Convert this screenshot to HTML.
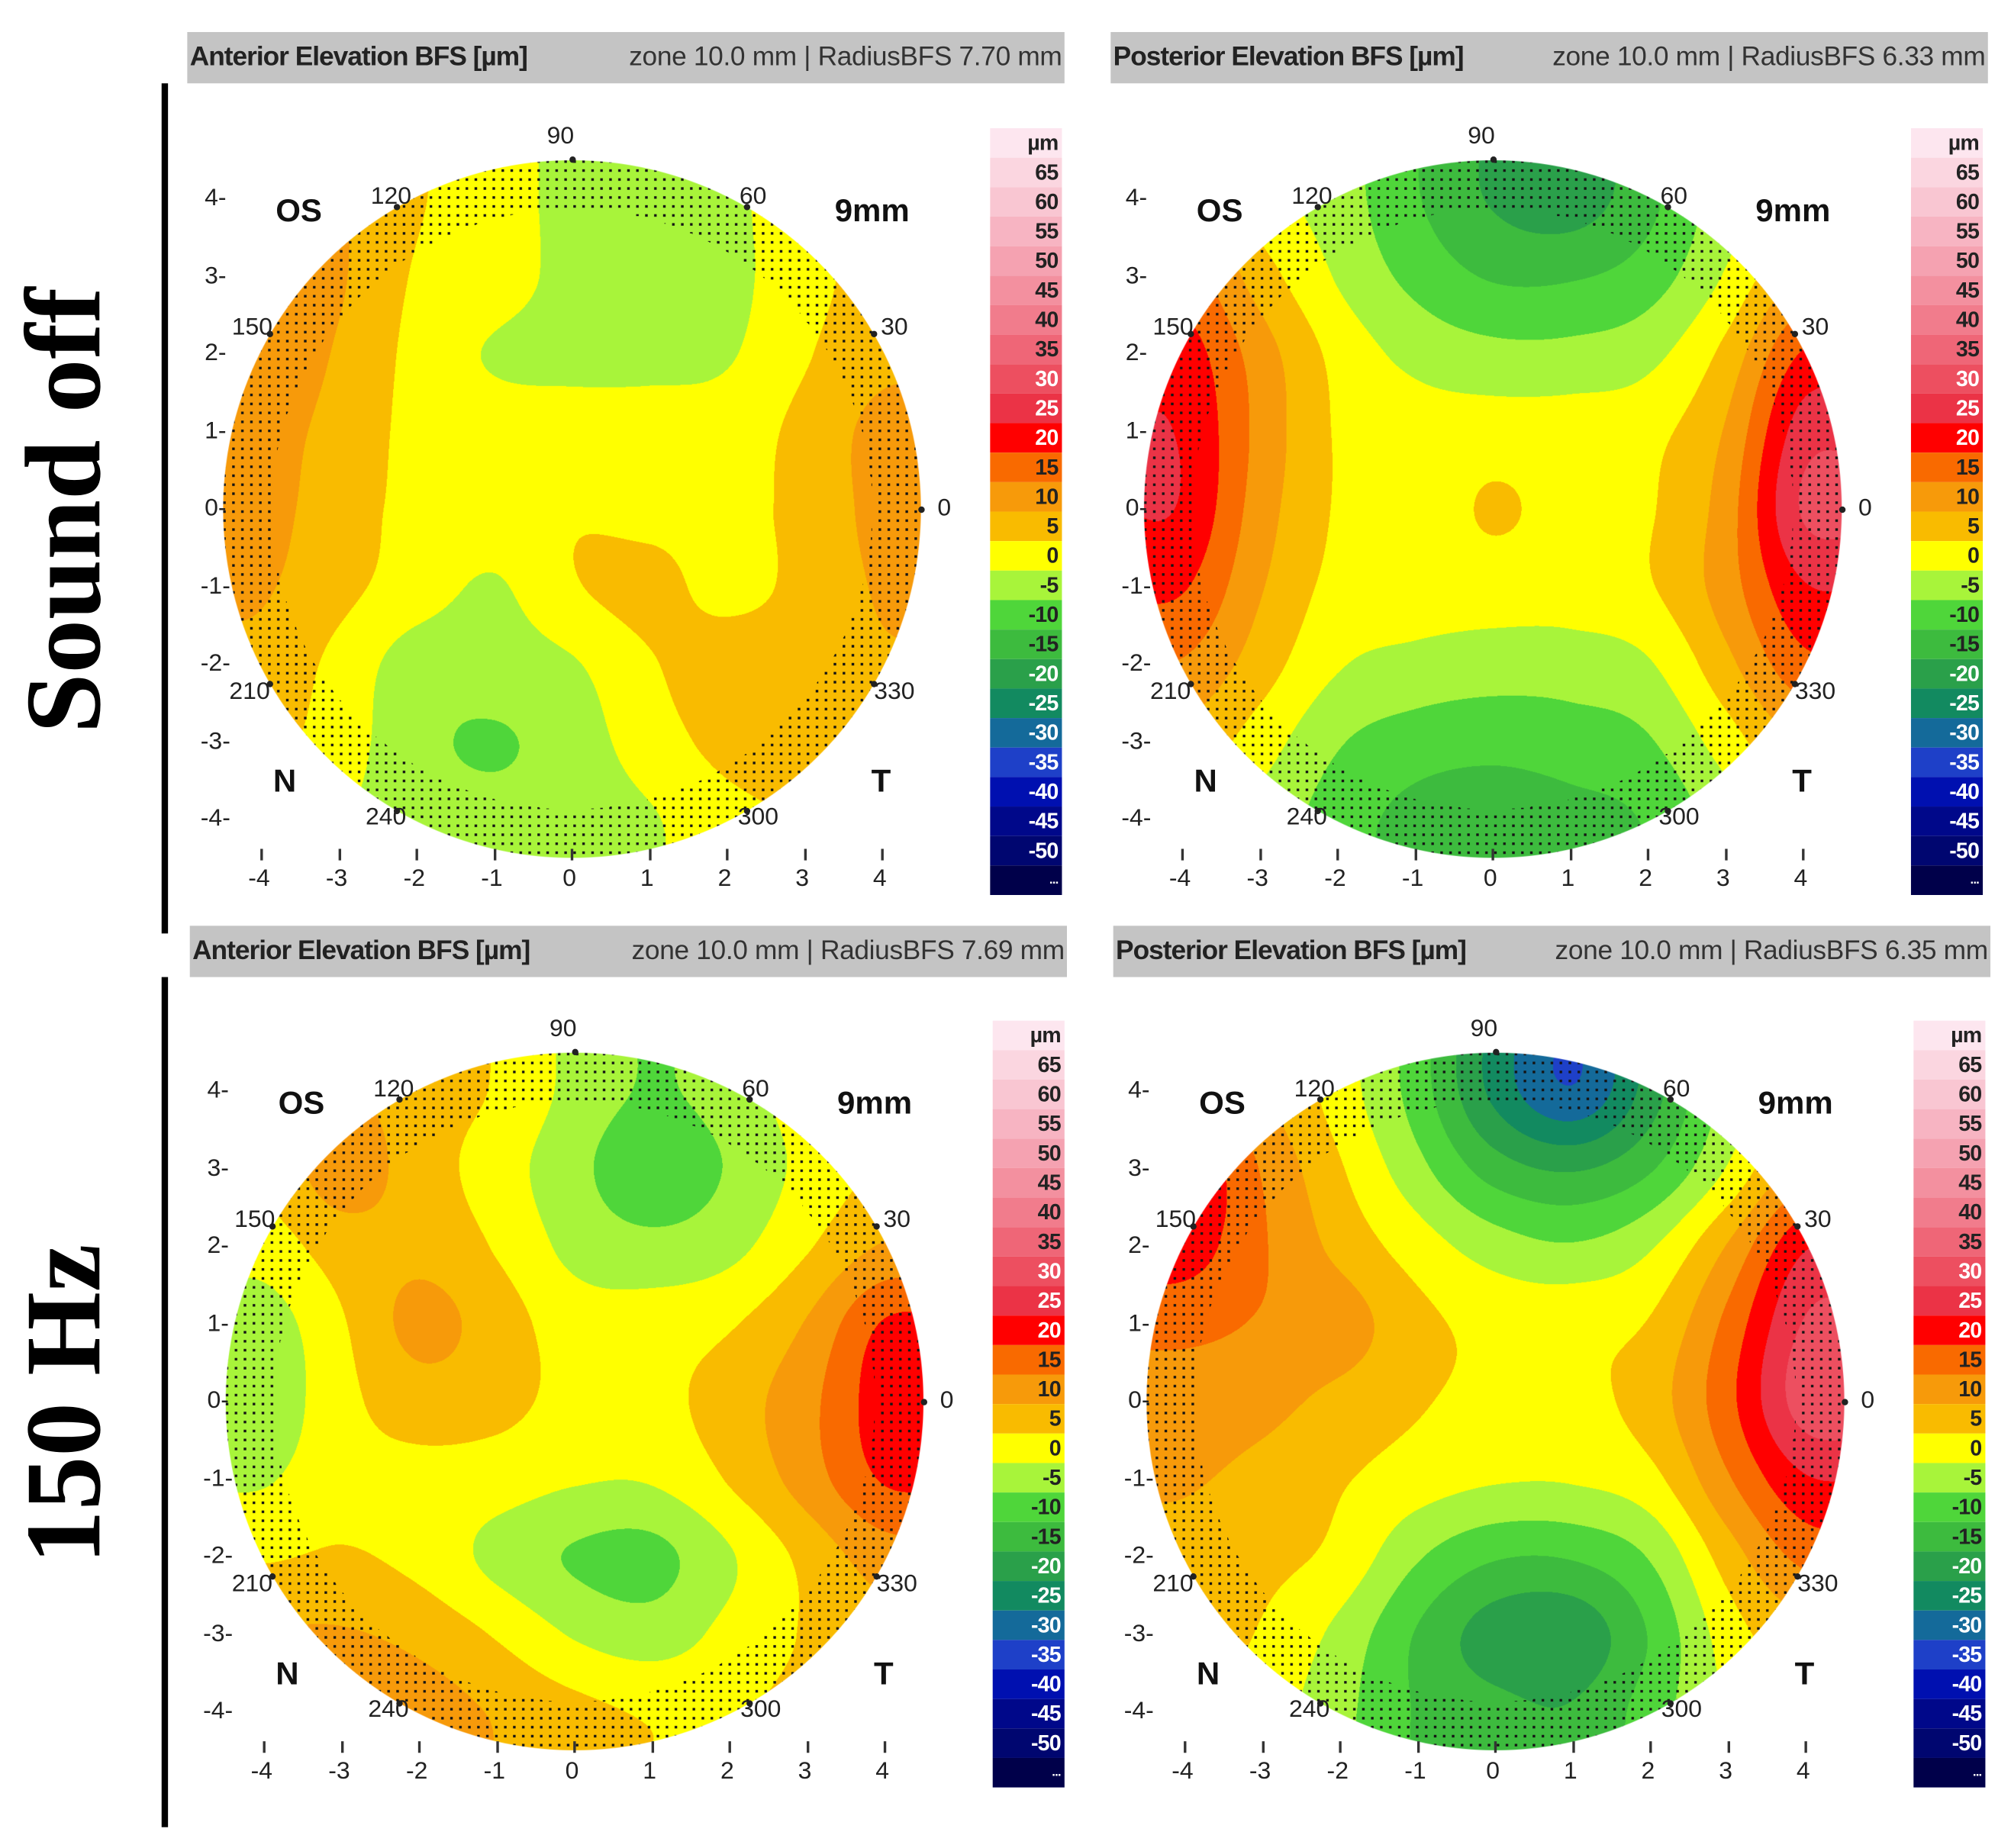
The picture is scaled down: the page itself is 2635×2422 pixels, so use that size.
<!DOCTYPE html>
<html><head><meta charset="utf-8">
<style>
html,body{margin:0;padding:0;background:#fff;}
body{width:2635px;height:2422px;overflow:hidden;position:relative;}
#wrap{position:absolute;left:0;top:0;width:1568px;height:1441px;transform:scale(1.6805);transform-origin:0 0;font-family:"Liberation Sans",sans-serif;}
.abs{position:absolute;}
.hdr{position:absolute;height:40px;background:#c4c4c4;font-family:"Liberation Sans Narrow","Liberation Sans",sans-serif;font-size:21px;color:#222;}
.hdr .l{position:absolute;left:2px;top:8px;font-weight:bold;letter-spacing:-0.6px;}
.hdr .r{position:absolute;right:2px;top:8px;color:#333;letter-spacing:-0.2px;}
.side{position:absolute;font-family:"Liberation Serif",serif;font-weight:bold;font-size:84px;white-space:nowrap;transform:translate(-50%,-50%) rotate(-90deg);}
.vbar{position:absolute;width:5px;background:#000;}
.lbl{position:absolute;font-size:19px;color:#222;white-space:nowrap;transform:translate(-50%,-50%);}
.big{position:absolute;font-size:25px;font-weight:bold;color:#111;transform:translate(-50%,-50%);}
.cb{position:absolute;width:56px;}
.cb div{height:23px;text-align:right;font-size:17px;font-weight:bold;line-height:23px;padding-right:3px;box-sizing:border-box;letter-spacing:-0.5px;}
</style></head>
<body>
<div id="wrap">
  <div class="side" style="left:50px;top:398px;">Sound off</div>
  <div class="vbar" style="left:126px;top:65px;height:663px;"></div>
  <div class="side" style="left:50px;top:1095px;">150 Hz</div>
  <div class="vbar" style="left:126px;top:762px;height:663px;"></div>
</div>
<script>
// elevation grids (µm), rows y = 4..-4 mm, cols x = -4..4 mm
const gridAntOff = [
 [10,8,3,0,-4,-4,-4,2,5],
 [10,8,2,0,-4,-4,-4,1,4],
 [10,7,1,-3,-4,-4,-3,2,6],
 [9,6,1,0,0,0,0,4,9],
 [9,5,1,0,2,1,1,4,9],
 [8,4,0,-3,2,4,1,4,8],
 [6,1,-5,-5,-3,2,5,5,7],
 [4,0,-6,-8,-5,0,4,5,6],
 [2,-2,-5,-6,-5,-3,1,3,5]
];
const gridPostOff = [
 [10,0,-5,-12,-18,-20,-14,-5,0],
 [15,5,-3,-9,-13,-13,-10,-2,8],
 [20,10,1,-4,-6,-6,-4,4,18],
 [22,11,2,0,0,0,1,8,25],
 [22,10,2,0,3,1,2,10,28],
 [18,8,1,0,0,0,2,10,22],
 [12,5,-2,-4,-5,-5,-3,6,16],
 [6,0,-7,-10,-11,-10,-8,0,8],
 [2,-4,-10,-14,-15,-14,-12,-5,2]
];
const gridAnt150 = [
 [5,8,5,2,-4,-8,-5,0,2],
 [4,10,5,0,-6,-11,-7,-1,3],
 [0,5,6,2,-4,-6,-4,2,8],
 [-5,2,9,5,0,0,2,8,18],
 [-6,1,5,4,1,1,5,11,20],
 [-3,1,1,0,-2,-2,3,10,18],
 [2,3,1,-4,-8,-9,-3,4,10],
 [8,8,6,2,-3,-5,-1,3,6],
 [12,12,10,7,4,2,2,4,6]
];
const gridPost150 = [
 [15,8,0,-10,-24,-32,-20,-6,2],
 [22,12,3,-6,-15,-18,-13,-2,10],
 [20,13,6,0,-5,-7,-3,8,22],
 [14,12,10,4,1,1,3,14,28],
 [10,9,6,3,1,1,5,16,30],
 [8,6,3,0,-2,-2,1,12,22],
 [6,4,1,-7,-12,-12,-7,5,14],
 [5,2,-4,-13,-20,-21,-12,0,6],
 [4,0,-6,-13,-16,-17,-10,-2,3]
];
const scaleLabels = ["µm","65","60","55","50","45","40","35","30","25","20","15","10","5","0","-5","-10","-15","-20","-25","-30","-35","-40","-45","-50","..."];
const scaleColors = ["#fde6ef","#fbd6e0","#f9c6d2","#f7b4c2","#f5a2b1","#f3909f","#f17c8c","#ef6677","#ed4f60","#eb3346","#ff0000","#f96a00","#f79a0a","#f9bb00","#ffff00","#a8f43a","#4fd63a","#3dbb3e","#2aa04a","#128a60","#146a9a","#1e40c8","#0010b0","#00088a","#000670","#00004a"];
const axisTicks = [-4,-3,-2,-1,0,1,2,3,4];
const angleTicks = [90,120,60,150,30,0,210,330,240,300];
const panels = [
 {name:"anterior-sound-off",title:"Anterior Elevation BFS [µm]",info:"zone 10.0 mm | RadiusBFS 7.70 mm",hx:146,hy:25,cx:446,cy:397,grid:gridAntOff},
 {name:"posterior-sound-off",title:"Posterior Elevation BFS [µm]",info:"zone 10.0 mm | RadiusBFS 6.33 mm",hx:866,hy:25,cx:1164,cy:397,grid:gridPostOff},
 {name:"anterior-150hz",title:"Anterior Elevation BFS [µm]",info:"zone 10.0 mm | RadiusBFS 7.69 mm",hx:148,hy:722,cx:448,cy:1093,grid:gridAnt150},
 {name:"posterior-150hz",title:"Posterior Elevation BFS [µm]",info:"zone 10.0 mm | RadiusBFS 6.35 mm",hx:868,hy:722,cx:1166,cy:1093,grid:gridPost150}
];
const PX=60.5, RMM=4.5;
const wrap=document.getElementById('wrap');
function sx(cx,x){return cx+x*PX;}
function sy(cy,y){return cy-y*PX;}
function cr(p0,p1,p2,p3,t){return 0.5*((2*p1)+(-p0+p2)*t+(2*p0-5*p1+4*p2-p3)*t*t+(-p0+3*p1-3*p2+p3)*t*t*t);}
function val(g,x,y){
  const gx=x+4, gy=4-y;
  const ix=Math.floor(gx), iy=Math.floor(gy);
  const tx=gx-ix, ty=gy-iy;
  const c=(i)=>Math.max(0,Math.min(8,i));
  const rows=[];
  for(let j=-1;j<=2;j++){
    const r=g[c(iy+j)];
    rows.push(cr(r[c(ix-1)],r[c(ix)],r[c(ix+1)],r[c(ix+2)],tx));
  }
  return cr(rows[0],rows[1],rows[2],rows[3],ty);
}
function colorOf(v){
  let k=Math.round(v/5);
  let idx=14-k;
  idx=Math.max(1,Math.min(25,idx));
  return scaleColors[idx];
}
function hexRGB(h){return [parseInt(h.substr(1,2),16),parseInt(h.substr(3,2),16),parseInt(h.substr(5,2),16)];}
function mk(tag,cls,style,text){const e=document.createElement(tag);if(cls)e.className=cls;if(style)e.style.cssText=style;if(text!==undefined)e.textContent=text;wrap.appendChild(e);return e;}

panels.forEach(p=>{
  const h=mk('div','hdr',`left:${p.hx}px;top:${p.hy}px;width:684px;`);
  
  
  const hl=document.createElement('span');hl.className='l';hl.textContent=p.title;h.appendChild(hl);
  
  
  const hr=document.createElement('span');hr.className='r';hr.textContent=p.info;h.appendChild(hr);
  
  

  const half=280, res=2;
  const cv=document.createElement('canvas');
  cv.width=half*2*res; cv.height=half*2*res;
  cv.style.cssText=`position:absolute;left:${p.cx-half}px;top:${p.cy-half}px;width:${half*2}px;height:${half*2}px;`;
  wrap.appendChild(cv);
  
  
  const ctx=cv.getContext('2d');
  const img=ctx.createImageData(cv.width,cv.height);
  const Rpx=RMM*PX*res;
  for(let j=0;j<cv.height;j++){
    for(let i=0;i<cv.width;i++){
      const dx=i+0.5-half*res, dy=j+0.5-half*res;
      const rr=Math.sqrt(dx*dx+dy*dy);
      if(rr>Rpx) continue;
      const x=dx/(PX*res), y=-dy/(PX*res);
      let rgb=hexRGB(colorOf(val(p.grid,x,y)));
      const o=(j*cv.width+i)*4;
      const ux=dx/res, uy=dy/res;
      if(rr>Rpx*0.86 && ((Math.floor(ux+1000))%7<1.5) && ((Math.floor(uy+1000))%7<1.5)){rgb=[20,20,20];}
      img.data[o]=rgb[0];img.data[o+1]=rgb[1];img.data[o+2]=rgb[2];
      img.data[o+3]=rr>Rpx-1?Math.round(255*(Rpx-rr)):255;
    }
  }
  ctx.putImageData(img,0,0);

  axisTicks.forEach(t=>{
    const xl=mk('div','lbl',`left:${sx(p.cx,t)-2}px;top:${p.cy+289}px;`,String(t));
    
    
    const xm=mk('div','abs',`left:${sx(p.cx,t)-1}px;top:${p.cy+265}px;width:2px;height:9px;background:#333;`);
    
    
    const yl=mk('div','lbl',`left:${p.cx-278}px;top:${sy(p.cy,t)}px;`,t+"-");
    
    
  });
  angleTicks.forEach(a=>{
    const rad=a*Math.PI/180;
    const mx=p.cx+Math.cos(rad)*RMM*PX, my=p.cy-Math.sin(rad)*RMM*PX;
    const dot=mk('div','abs',`left:${mx-2.5}px;top:${my-2.5}px;width:5px;height:5px;border-radius:50%;background:#222;`);
    
    
    let lx=p.cx+Math.cos(rad)*(RMM*PX+18), ly=p.cy-Math.sin(rad)*(RMM*PX+18);
    if(a===90){lx-=9;}
    if(a===120){lx+=4;ly+=8;} if(a===60){lx-=4;ly+=8;}
    if(a===150){lx+=2;ly+=4;} if(a===30){ly+=4;}
    if(a===210){ly-=2;} if(a===330){ly-=2;}
    if(a===240){ly-=10;} if(a===300){ly-=10;}
    const al=mk('div','lbl',`left:${lx}px;top:${ly}px;`,String(a));
    
    
  });
  const os=mk('div','big',`left:${p.cx-213}px;top:${p.cy-232}px;`,"OS");
  
  
  const mm=mk('div','big',`left:${p.cx+234}px;top:${p.cy-232}px;`,"9mm");
  
  
  const n=mk('div','big',`left:${p.cx-224}px;top:${p.cy+213}px;`,"N");
  
  
  const tt=mk('div','big',`left:${p.cx+241}px;top:${p.cy+213}px;`,"T");
  
  

  const cb=mk('div','cb',`left:${p.cx+326}px;top:${p.cy-297}px;`);
  
  
  scaleLabels.forEach((s,i)=>{
    const d=document.createElement('div');
    d.style.background=scaleColors[i];
    const white=(i>=8&&i<=10)||i>=18;
    d.style.color=white?'#fff':'#222';
    if(i===25){d.style.fontSize='10px';}
    d.textContent=s;
    cb.appendChild(d);
    
    
  });
});
</script>
</body></html>
